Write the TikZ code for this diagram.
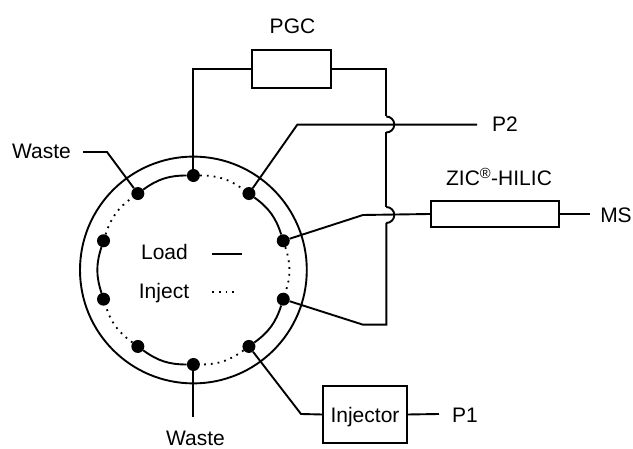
\documentclass[tikz,border=0pt]{standalone}
\usepackage{fontspec}
\setmainfont{Liberation Sans}
\usepackage{tikz}
\usetikzlibrary{calc}

\tikzset{
  wire/.style={line width=1.9pt},
  dotwire/.style={line width=1.8pt, dash pattern=on 1.8pt off 5pt},
  port/.style={circle, fill=black, inner sep=0pt, minimum size=13pt},
  devbox/.style={draw, line width=1.9pt, inner sep=0pt},
  lbl/.style={inner sep=0pt, anchor=base, font=\fontsize{21}{24}\selectfont},
}

\begin{document}
\begin{tikzpicture}[x=1pt, y=1pt]
        \useasboundingbox (0,0) rectangle (633,449);

        \coordinate (hub) at (193.4,179);
        \draw [wire] (hub) circle (113.4);

        \foreach \n/\a in {1/90, 2/54, 3/18, 4/-18, 5/-54, 6/-90, 7/-126, 8/-162, 9/162, 10/126}
          \node [port] (p\n) at ($(hub)+(\a:94.5)$) {};

        \draw [wire]    (p10) to [bend left=18] (p1);
        \draw [dotwire] (p1)  to [bend left=18] (p2);
        \draw [wire]    (p2)  to [bend left=18] (p3);
        \draw [dotwire] (p3)  to [bend left=18] (p4);
        \draw [wire]    (p4)  to [bend left=18] (p5);
        \draw [dotwire] (p5)  to [bend left=18] (p6);
        \draw [wire]    (p6)  to [bend left=18] (p7);
        \draw [dotwire] (p7)  to [bend left=18] (p8);
        \draw [wire]    (p8)  to [bend left=18] (p9);
        \draw [dotwire] (p9)  to [bend left=18] (p10);

        \node [devbox, minimum width=79pt, minimum height=38pt]  (pgc) at (291.5,380) {};
        \node [devbox, minimum width=128pt, minimum height=26pt] (zic) at (495,235) {};
        \node [devbox, minimum width=84pt, minimum height=57pt, text height=20pt, text depth=3pt,
               font=\fontsize{21}{24}\selectfont] (injector) at (365,34.5) {Injector};

        \node [lbl] (pgclabel) at (292.5,415) {PGC};
        \node [lbl] (ziclabel) at (499,263) {ZIC\textsuperscript{\textregistered}-HILIC};
        \node [lbl] (p2label)  at (505,317) {P2};
        \node [lbl] (mslabel)  at (616,226) {MS};
        \node [lbl] (p1label)  at (465,26)  {P1};
        \node [lbl] (wasteup)  at (41.5,290) {Waste};
        \node [lbl] (wastedn)  at (195.5,3)  {Waste};
        \node [lbl] (loadlabel)   at (164.5,189) {Load};
        \node [lbl] (injectlabel) at (164,150)   {Inject};

        \coordinate (pgcleft)  at (193.4,380);
        \coordinate (pgcright) at (386.3,380);
        \coordinate (busbot)   at (386.3,124.3);
        \coordinate (kinkbot)  at (363,124.3);
        \coordinate (jumpatop) at (386.3,332.5);
        \coordinate (jumpabot) at (386.3,316.5);
        \coordinate (jumpbtop) at (386.3,242);
        \coordinate (jumpbbot) at (386.3,226);
        \coordinate (kinkp2)   at (297.3,324.3);
        \coordinate (endp2)    at (477,324.3);
        \coordinate (kinkms)   at (363,234);
        \coordinate (kinkinj)  at (301,35);
        \coordinate (wasteelbow) at (107,297);
        \coordinate (wastestub)  at (83,297);
        \coordinate (wastefoot)  at (193.4,32);
        \coordinate (endms)    at (590,235);
        \coordinate (endp1)    at (439,35);
        \coordinate (loadA)    at (212,195);
        \coordinate (loadB)    at (242,195);
        \coordinate (injectA)  at (212,157);
        \coordinate (injectB)  at (239,157);

        \draw [wire] (p1) -- (pgcleft) -- (pgc.west);
        \draw [wire] (pgc.east) -- (pgcright) -- (jumpatop);
        \draw [wire] (jumpatop) arc [start angle=90, end angle=-90, radius=8];
        \draw [wire] (jumpabot) -- (jumpbtop);
        \draw [wire] (jumpbtop) arc [start angle=90, end angle=-90, radius=8];
        \draw [wire] (jumpbbot) -- (busbot) -- (kinkbot) -- (p4);

        \draw [wire] (p2) -- (kinkp2) -- (endp2);
        \draw [wire] (p3) -- (kinkms) -- (zic.west);
        \draw [wire] (zic.east) -- (endms);
        \draw [wire] (p5) -- (kinkinj) -- (injector.west);
        \draw [wire] (injector.east) -- (endp1);
        \draw [wire] (p10) -- (wasteelbow) -- (wastestub);
        \draw [wire] (p6) -- (wastefoot);
        \draw [wire] (loadA) -- (loadB);
        \draw [dotwire] (injectA) -- (injectB);
\end{tikzpicture}
\end{document}
